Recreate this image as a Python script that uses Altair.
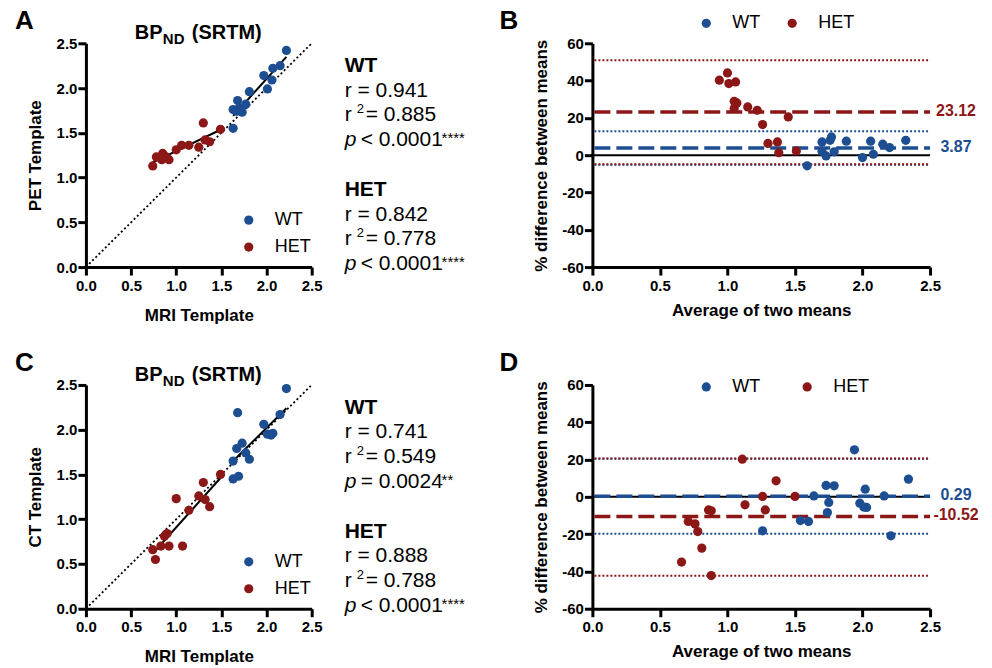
import altair as alt
import pandas as pd

FONT = "Liberation Sans"
BLUE = "#1c4e91"
RED = "#8c1717"
groups = ["WT", "HET"]
group_colors = [BLUE, RED]

axis_ticks = [0.0, 0.5, 1.0, 1.5, 2.0, 2.5]
diff_ticks = [-60, -40, -20, 0, 20, 40, 60]
identity_line = [0.0, 2.5]

# ---------- Panel A : PET template vs MRI template ----------
a_wt_x = [2.22, 2.15, 2.07, 1.97, 2.06, 2.01, 1.81, 1.68, 1.77, 1.63, 1.67, 1.73, 1.63, 1.70]
a_wt_y = [2.42, 2.25, 2.22, 2.14, 2.09, 1.99, 1.96, 1.86, 1.82, 1.76, 1.74, 1.73, 1.55, 1.78]
a_het_x = [1.30, 1.49, 1.37, 1.32, 1.25, 1.14, 1.06, 1.00, 0.92, 0.89, 0.85, 0.78, 0.74, 0.84]
a_het_y = [1.61, 1.54, 1.40, 1.42, 1.34, 1.36, 1.36, 1.31, 1.20, 1.23, 1.27, 1.23, 1.13, 1.20]
a_r = ["0.941", "0.842"]
a_r2 = ["0.885", "0.778"]
a_p = ["< 0.0001", "< 0.0001"]
a_stars = ["****", "****"]

# ---------- Panel B : Bland-Altman PET vs MRI ----------
b_wt_x = [1.59, 1.70, 1.77, 1.76, 1.70, 1.73, 1.79, 1.88, 2.00, 2.06, 2.08, 2.15, 2.20, 2.32]
b_wt_y = [-5.7, 7.1, 9.8, 8.0, 2.1, -0.4, 1.8, 7.5, -1.3, 7.5, 0.5, 5.9, 4.1, 8.0]
b_het_x = [0.94, 1.00, 1.01, 1.06, 1.05, 1.07, 1.05, 1.15, 1.22, 1.26, 1.45, 1.30, 1.37, 1.38, 1.51]
b_het_y = [40.2, 44.1, 38.4, 39.3, 28.9, 28.0, 25.0, 25.9, 24.1, 16.4, 20.5, 6.3, 7.1, 1.3, 2.3]
b_means = [3.87, 23.12]
b_loa_wt = [12.9, -5.1]
b_loa_het = [50.9, -4.8]

# ---------- Panel C : CT template vs MRI template ----------
c_wt_x = [2.22, 1.68, 2.15, 1.97, 2.01, 2.07, 2.05, 1.73, 1.67, 1.77, 1.81, 1.63, 1.69, 1.63]
c_wt_y = [2.46, 2.19, 2.17, 2.06, 1.95, 1.96, 1.94, 1.85, 1.79, 1.74, 1.67, 1.65, 1.48, 1.45]
c_het_x = [1.49, 1.30, 1.25, 1.32, 1.37, 1.00, 1.14, 0.90, 0.87, 0.92, 0.83, 0.74, 1.07, 0.77]
c_het_y = [1.50, 1.41, 1.26, 1.22, 1.14, 1.23, 1.10, 0.84, 0.81, 0.70, 0.70, 0.66, 0.70, 0.55]
c_r = ["0.741", "0.888"]
c_r2 = ["0.549", "0.788"]
c_p = ["= 0.0024", "< 0.0001"]
c_stars = ["**", "****"]

# ---------- Panel D : Bland-Altman CT vs MRI ----------
d_wt_x = [1.94, 2.34, 1.73, 1.79, 2.02, 1.64, 2.16, 1.75, 1.98, 2.01, 2.03, 1.74, 1.54, 1.60, 1.26, 2.21]
d_wt_y = [25.2, 9.5, 6.1, 5.9, 4.1, 0.5, 0.5, -3.0, -3.4, -5.5, -5.7, -8.4, -12.7, -13.2, -18.2, -20.9]
d_het_x = [1.11, 1.36, 1.13, 1.26, 1.28, 1.50, 0.86, 0.88, 0.71, 0.76, 0.78, 0.81, 0.66, 0.88]
d_het_y = [20.2, 8.6, -4.3, 0.2, -7.0, 0.2, -7.0, -7.5, -13.2, -14.5, -18.6, -27.5, -35.0, -42.2]
d_means = [0.29, -10.52]
d_loa_wt = [20.4, -19.8]
d_loa_het = [20.5, -42.3]

W_SC, W_BA, H = 226, 338, 224
PT_SIZE = 85


def color_enc():
    return alt.Color("group:N", scale=alt.Scale(domain=groups, range=group_colors), legend=None)


def text_layer(text, x, y, size=21, weight="normal", style="normal", color="black",
               align="left", baseline="alphabetic"):
    return alt.Chart(pd.DataFrame({"t": [text]})).mark_text(
        font=FONT, fontSize=size, fontWeight=weight, fontStyle=style, color=color,
        align=align, baseline=baseline
    ).encode(text="t:N", x=alt.value(x), y=alt.value(y))


def dot_layer(color, x, y):
    return alt.Chart(pd.DataFrame({"t": [0]})).mark_circle(
        size=PT_SIZE, opacity=1, color=color
    ).encode(x=alt.value(x), y=alt.value(y))


def make_df(wt_x, wt_y, het_x, het_y):
    return pd.DataFrame({
        "x": wt_x + het_x,
        "y": wt_y + het_y,
        "group": ["WT"] * len(wt_x) + ["HET"] * len(het_x),
    })


def title_layers():
    return [
        text_layer("BP", 49, -4, size=20, weight="bold"),
        text_layer("ND", 77, 1, size=15, weight="bold"),
        text_layer("(SRTM)", 106, -4, size=20, weight="bold"),
    ]


def scatter_panel(letter, wt_x, wt_y, het_x, het_y, ytitle, r_vals, r2_vals, p_vals, stars):
    df = make_df(wt_x, wt_y, het_x, het_y)
    xs = alt.Scale(domain=[0, 2.5], nice=False, zero=False)
    ys = alt.Scale(domain=[0, 2.5], nice=False, zero=False)
    X = alt.X("x:Q", scale=xs, axis=alt.Axis(values=axis_ticks, format=".1f", title="MRI Template",
                                             titlePadding=14, labelPadding=3))
    Y = alt.Y("y:Q", scale=ys, axis=alt.Axis(values=axis_ticks, format=".1f", title=ytitle,
                                             titlePadding=12, labelPadding=1))
    ident = alt.Chart(pd.DataFrame({"x": identity_line, "y": identity_line})).mark_line(
        color="black", strokeWidth=1.8, strokeDash=[2, 2.5]
    ).encode(x=X, y=Y)
    reg = alt.Chart(df).transform_regression("x", "y", groupby=["group"]).mark_line(
        color="black", strokeWidth=2
    ).encode(x=X, y=Y, detail="group:N")
    pts = alt.Chart(df).mark_circle(size=PT_SIZE, opacity=1).encode(x=X, y=Y, color=color_enc())

    layers = [ident, reg, pts]
    # legend
    layers += [dot_layer(BLUE, 163, 177), text_layer("WT", 189, 177, size=18, baseline="middle"),
               dot_layer(RED, 163, 204), text_layer("HET", 189, 204, size=18, baseline="middle")]
    # stats text
    for i, g in enumerate(groups):
        b = 29 + 124 * i
        layers += [
            text_layer(g, 259, b, weight="bold"),
            text_layer("r = " + r_vals[i], 259, b + 24.5),
            text_layer("r", 259, b + 49),
            text_layer("2", 271, b + 41, size=13),
            text_layer("= " + r2_vals[i], 280, b + 49),
            text_layer("p", 259, b + 74, style="italic"),
            text_layer(p_vals[i], 275, b + 74),
            text_layer(stars[i], 356, b + 71, size=15),
        ]
    layers += title_layers()
    layers.append(text_layer(letter, -71, -35, size=26, weight="bold", baseline="top"))
    return alt.layer(*layers).properties(width=W_SC, height=H)


def ba_panel(letter, wt_x, wt_y, het_x, het_y, means, loa_wt, loa_het, legend_y, het_dot_x):
    df = make_df(wt_x, wt_y, het_x, het_y)
    xs = alt.Scale(domain=[0, 2.5], nice=False, zero=False)
    ys = alt.Scale(domain=[-60, 60], nice=False, zero=False)
    X = alt.X("x:Q", scale=xs, axis=alt.Axis(values=axis_ticks, format=".1f",
                                             title="Average of two means",
                                             titlePadding=9, labelPadding=3))
    Y = alt.Y("y:Q", scale=ys, axis=alt.Axis(values=diff_ticks, labelExpr="'' + datum.value",
                                             title="% difference between means",
                                             titlePadding=11, labelPadding=1))
    zero = alt.Chart(pd.DataFrame({"y": [0]})).mark_rule(color="black", strokeWidth=2).encode(
        y=Y, x=alt.value(0), x2=alt.value(W_BA))
    loa_df = pd.DataFrame({"y": loa_wt + loa_het, "group": ["WT", "WT", "HET", "HET"]})
    loa = alt.Chart(loa_df).mark_rule(strokeWidth=2, strokeDash=[2, 2]).encode(
        y=Y, x=alt.value(2), x2=alt.value(W_BA), color=color_enc())
    mean_df = pd.DataFrame({"y": means, "group": groups,
                            "label": [f"{m:.2f}" for m in means]})
    mean = alt.Chart(mean_df).mark_rule(strokeWidth=3.5, strokeDash=[16, 6]).encode(
        y=Y, x=alt.value(2), x2=alt.value(W_BA), color=color_enc())
    mean_lab = alt.Chart(mean_df).mark_text(
        font=FONT, fontSize=16, fontWeight="bold", align="center", baseline="middle", dy=-1
    ).encode(y=Y, x=alt.value(W_BA + 26), text="label:N", color=color_enc())
    pts = alt.Chart(df).mark_circle(size=PT_SIZE, opacity=1).encode(x=X, y=Y, color=color_enc())
    layers = [zero, loa, mean, mean_lab, pts]
    layers += [dot_layer(BLUE, 114, legend_y), text_layer("WT", 140, legend_y, size=18, baseline="middle"),
               dot_layer(RED, het_dot_x, legend_y),
               text_layer("HET", het_dot_x + 26, legend_y, size=18, baseline="middle")]
    layers.append(text_layer(letter, -93, -35, size=26, weight="bold", baseline="top"))
    return alt.layer(*layers).properties(width=W_BA, height=H)


pA = scatter_panel("A", a_wt_x, a_wt_y, a_het_x, a_het_y, "PET Template", a_r, a_r2, a_p, a_stars)
pB = ba_panel("B", b_wt_x, b_wt_y, b_het_x, b_het_y, b_means, b_loa_wt, b_loa_het, -20, 200)
pC = scatter_panel("C", c_wt_x, c_wt_y, c_het_x, c_het_y, "CT Template", c_r, c_r2, c_p, c_stars)
pD = ba_panel("D", d_wt_x, d_wt_y, d_het_x, d_het_y, d_means, d_loa_wt, d_loa_het, 2, 215)

chart = alt.concat(pA, pB, pC, pD, columns=2,
                   spacing={"row": 118, "column": 281}, bounds="flush").properties(
    padding={"left": 7, "top": 0, "right": 5, "bottom": 5},
    background="white",
).configure_view(stroke=None).configure_axis(
    domainColor="black", domainWidth=3, tickColor="black", tickWidth=3, tickSize=8,
    labelFont=FONT, labelFontSize=15, labelFontWeight="bold", labelColor="black",
    labelFlush=False,
    titleFont=FONT, titleFontSize=17, titleFontWeight="bold", titleColor="black",
    grid=False,
)

chart.save("out.html", embed_options={"renderer": "svg", "actions": False})
